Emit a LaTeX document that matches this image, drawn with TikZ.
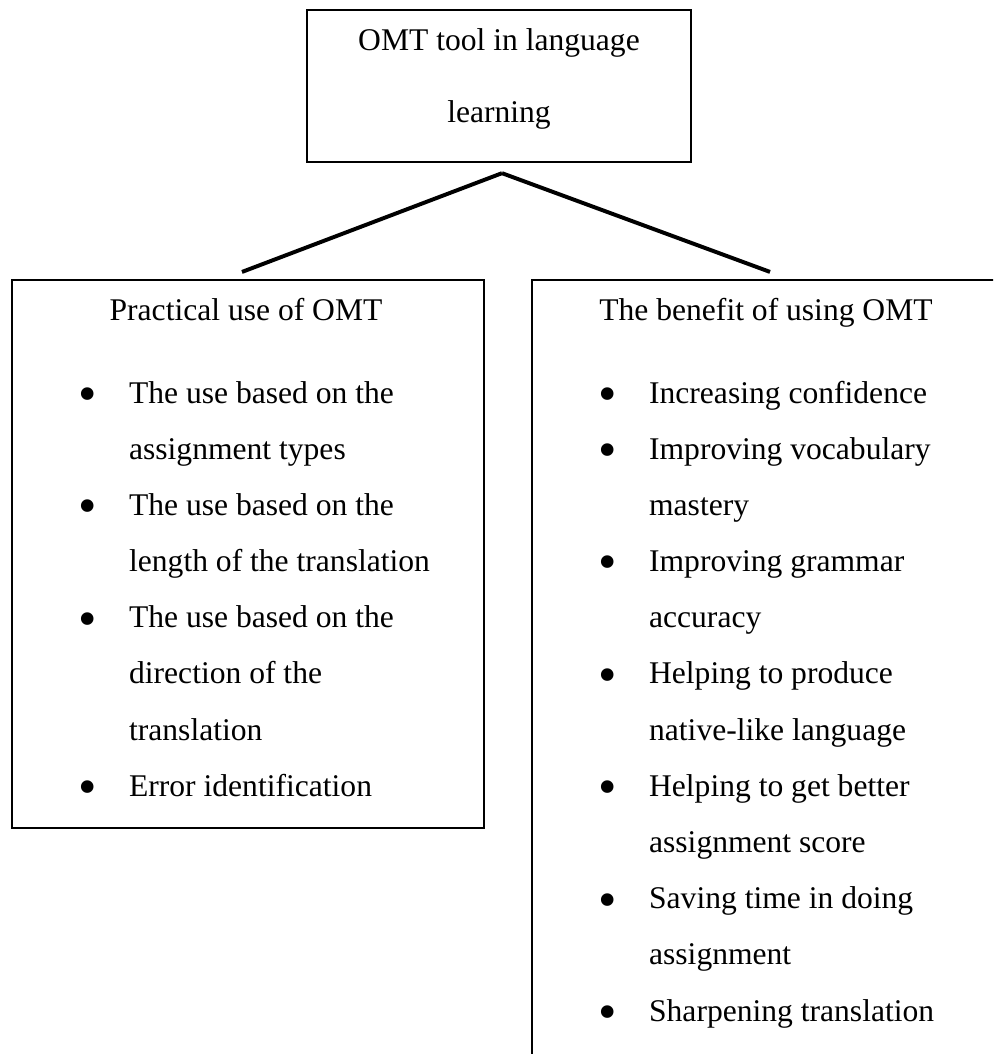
\documentclass[tikz,border=0pt]{standalone}
\usepackage{fontspec}
\setmainfont{Liberation Serif}
\usetikzlibrary{calc,positioning}

% bullet line with hanging indent
\newcommand{\bmark}{\hspace{-1.2pt}\raisebox{-3.2pt}{\fontsize{20}{20}\selectfont\textbullet}}
\newcommand{\bitem}[1]{\par\noindent\hangindent=17.9pt\hangafter=1\makebox[17.9pt][l]{\bmark}#1}

\tikzset{
    box/.style={draw, line width=0.85pt, inner sep=0pt},
    link/.style={line width=1.5pt},
    head/.style={anchor=base, inner sep=0pt},
    list/.style={anchor=base west, inner sep=0pt},
}

\begin{document}
\begin{tikzpicture}[x=0.38pt, y=-0.38pt, font=\fontsize{12}{21.35}\selectfont]
    \clip (0,0) rectangle (993,1054);

    \node[box, minimum width=145.9pt, minimum height=57.8pt] (root) at (499,86) {};
    \node[box, minimum width=179.4pt, minimum height=208.2pt] (practical) at (248,554) {};
    \node[box, minimum width=182.4pt, minimum height=301.7pt] (benefit) at (772,677) {};

    \node[head] (roottxt) at (499,50) {\parbox[t]{140pt}{\centering\baselineskip=27.4pt
        OMT tool in language\\learning}};
    \node[head] (practxt) at (246,320) {Practical use of OMT};
    \node[head] (bentxt) at (766,320) {The benefit of using OMT};

    \node[list] (praclist) at (81.5,403) {\parbox[t]{170pt}{\baselineskip=21.35pt
        \bitem{The use based on the\\assignment types}
        \bitem{The use based on the\\length of the translation}
        \bitem{The use based on the\\direction of the\\translation}
        \bitem{Error identification}}};
    \node[list] (benlist) at (601.5,403) {\parbox[t]{170pt}{\baselineskip=21.35pt
        \bitem{Increasing confidence}
        \bitem{Improving vocabulary\\mastery}
        \bitem{Improving grammar\\accuracy}
        \bitem{Helping to produce\\native-like language}
        \bitem{Helping to get better\\assignment score}
        \bitem{Saving time in doing\\assignment}
        \bitem{Sharpening translation}}};

    \draw[link] ($(root.south)+(3,10)$) -- ($(practical.north)+(-6,-7)$);
    \draw[link] ($(root.south)+(3,10)$) -- ($(benefit.north)+(-2,-7)$);
\end{tikzpicture}
\end{document}
